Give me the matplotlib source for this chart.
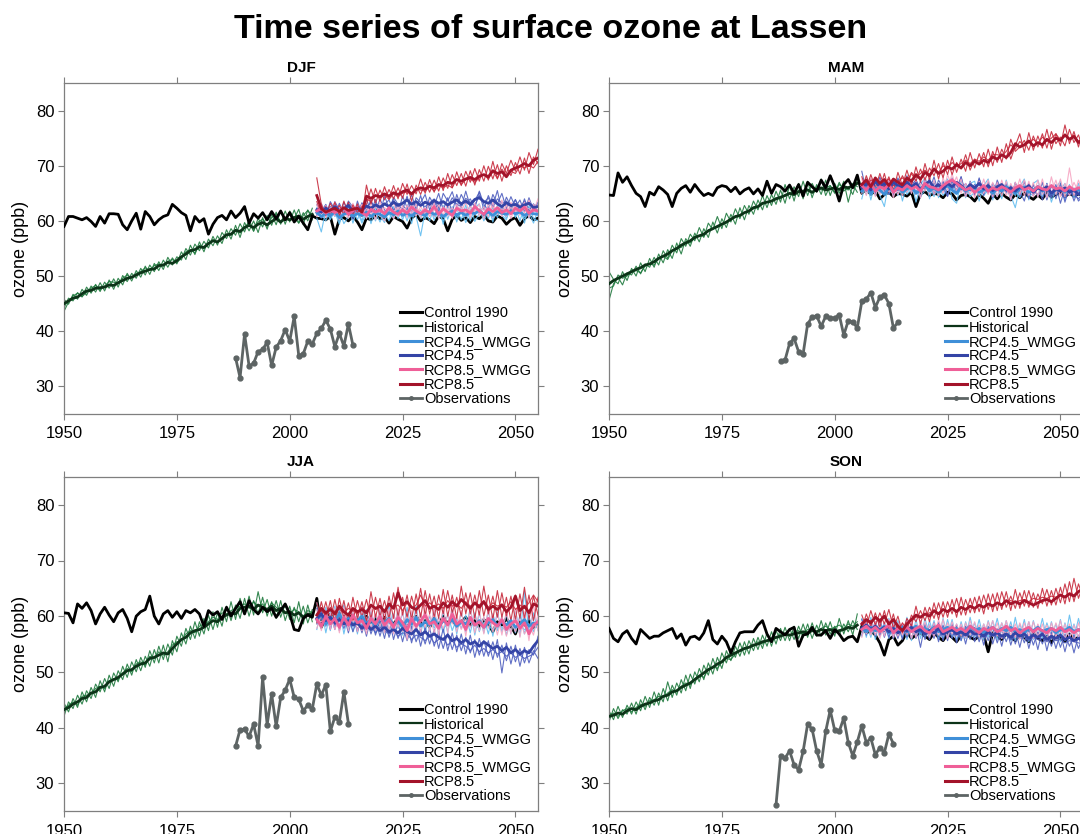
import numpy as np
import matplotlib
matplotlib.use("Agg")
import matplotlib.pyplot as plt
from matplotlib.lines import Line2D

plt.rcParams['font.family'] = ['Liberation Sans', 'DejaVu Sans']

# ---------------- year axes ----------------
CTRL_START = 1950
HIST_START = 1950
FUT_START = 2006

# ================= DJF =================
djf_ctrl = [
    59.0, 60.8, 60.8, 60.5, 60.2, 60.6, 59.9, 59.0, 60.8, 59.6,
    61.3, 61.3, 61.2, 59.3, 58.4, 60.0, 61.4, 58.5, 61.7, 60.8,
    59.3, 60.2, 60.8, 61.1, 63.0, 62.3, 61.5, 61.0, 58.2, 60.8,
    59.8, 60.4, 57.6, 59.4, 60.6, 61.0, 60.2, 61.8, 60.6, 61.4,
    62.6, 59.6, 61.3, 60.5, 61.5, 60.2, 61.7, 60.4, 61.8, 60.2,
    61.5, 59.8, 60.8, 59.6, 58.4, 60.9, 60.5, 60.4, 60.2, 60.8,
    57.6, 60.3, 60.6, 60.0, 60.9, 59.8, 58.4, 60.5, 60.2, 61.0,
    60.4, 60.7, 59.6, 60.8, 60.3, 59.9, 58.7, 60.5, 61.2, 60.0,
    60.6, 60.2, 59.5, 60.9, 60.4, 58.2, 60.3, 61.0, 60.1, 60.6,
    59.7, 60.8, 60.4, 61.2, 60.0, 59.8, 60.9, 60.5, 59.4, 60.2,
    60.6, 59.2, 60.4, 61.0, 60.2, 60.5]
djf_hist = [
    45.0, 45.5, 46.0, 46.2, 46.8, 47.3, 47.4, 47.8, 47.9, 48.0,
    48.4, 48.3, 48.8, 49.2, 49.6, 49.8, 50.2, 50.6, 50.9, 51.2,
    51.3, 51.9, 52.0, 52.5, 52.3, 52.8, 53.5, 54.0, 54.6, 54.8,
    55.3, 55.2, 55.9, 56.4, 56.2, 56.8, 57.5, 57.6, 58.3, 58.1,
    58.8, 59.2, 58.8, 59.4, 59.7, 59.3, 59.9, 60.4, 59.8, 60.5,
    60.2, 60.6, 60.9, 60.3, 60.8, 61.2]
djf_hist_m1 = [
    44.2, 46.0, 45.5, 47.0, 46.2, 48.0, 46.9, 48.5, 47.2, 48.9,
    47.8, 49.5, 48.0, 50.1, 49.0, 50.5, 49.6, 51.4, 50.2, 52.0,
    50.8, 52.6, 51.2, 53.4, 52.0, 53.5, 52.9, 55.0, 53.8, 55.8,
    54.6, 56.3, 55.1, 57.2, 55.6, 57.9, 56.8, 58.6, 57.4, 59.5,
    58.0, 60.3, 58.1, 60.5, 58.9, 61.0, 59.2, 61.6, 59.4, 61.8,
    59.8, 62.0, 59.6, 61.5, 60.0, 62.3]
djf_hist_m2 = [
    45.8, 44.9, 46.7, 45.8, 47.6, 46.5, 48.2, 47.1, 48.8, 47.3,
    49.3, 47.6, 49.6, 48.4, 50.5, 49.1, 51.0, 49.8, 51.8, 50.3,
    52.3, 51.0, 52.9, 51.6, 53.3, 52.2, 54.4, 53.0, 55.6, 53.9,
    56.2, 54.4, 56.7, 55.5, 57.3, 55.9, 58.4, 56.7, 59.2, 57.0,
    59.7, 58.2, 60.0, 57.9, 60.6, 58.5, 61.2, 59.3, 61.9, 59.4,
    61.8, 60.4, 62.1, 59.3, 62.0, 60.2]
djf_hist_m3 = [
    43.6, 45.3, 46.4, 46.9, 46.3, 47.0, 47.8, 48.3, 47.5, 48.2,
    49.0, 48.9, 48.6, 49.6, 50.2, 49.6, 50.5, 50.8, 51.5, 51.0,
    51.9, 52.2, 51.8, 52.7, 53.0, 52.4, 53.3, 54.4, 54.8, 54.2,
    55.6, 55.0, 55.8, 56.6, 56.0, 56.9, 57.5, 57.4, 58.3, 57.8,
    58.9, 59.6, 58.2, 59.8, 60.3, 59.0, 60.6, 61.2, 59.8, 60.4,
    61.4, 60.6, 59.6, 61.0, 61.9, 60.9]
djf_r45w = [
    61.5, 60.8, 61.4, 61.0, 61.6, 60.6, 61.2, 61.5, 60.9, 61.3,
    61.0, 61.6, 60.8, 61.4, 61.2, 60.7, 61.5, 61.1, 61.8, 61.0,
    61.4, 60.9, 61.6, 61.3, 61.0, 61.7, 61.2, 61.5, 60.8, 61.4,
    61.8, 61.1, 61.5, 61.0, 61.6, 61.3, 61.9, 61.2, 61.6, 61.0,
    61.7, 61.4, 61.2, 61.8, 61.3, 61.6, 61.0, 61.5, 61.3, 61.2]
djf_r45w_m1 = [
    60.5, 58.0, 62.0, 60.2, 62.5, 59.8, 61.8, 62.6, 59.6, 62.2,
    60.0, 62.8, 59.5, 62.4, 61.0, 59.7, 62.9, 60.6, 63.0, 60.2,
    62.4, 59.5, 62.9, 60.5, 61.8, 63.0, 60.1, 62.7, 59.4, 62.8,
    61.0, 62.2, 60.2, 62.9, 60.0, 62.4, 63.1, 60.4, 62.7, 59.8,
    62.9, 61.0, 60.2, 63.0, 60.6, 62.7, 59.6, 62.8, 60.4, 60.0]
djf_r45w_m2 = [
    62.4, 61.6, 60.0, 62.2, 60.8, 61.9, 59.5, 60.8, 62.2, 60.2,
    62.4, 60.5, 62.2, 60.0, 62.5, 61.4, 60.0, 62.6, 60.4, 62.3,
    60.0, 62.6, 60.8, 57.3, 61.8, 60.0, 62.6, 60.6, 62.8, 60.3,
    62.6, 59.8, 62.6, 61.2, 62.9, 59.9, 61.4, 62.8, 60.4, 62.5,
    60.6, 62.8, 61.0, 61.6, 62.5, 60.0, 62.6, 60.5, 62.4, 61.0]
djf_r45w_m3 = [
    61.2, 62.2, 61.8, 60.4, 61.6, 59.4, 62.4, 61.0, 61.4, 61.8,
    59.6, 61.5, 61.8, 61.6, 59.8, 61.8, 61.2, 60.5, 61.9, 61.4,
    62.0, 60.8, 61.0, 62.0, 60.4, 62.0, 60.8, 61.3, 60.0, 61.7,
    61.6, 60.6, 62.0, 59.7, 62.1, 61.4, 62.2, 60.0, 61.8, 60.4,
    61.6, 61.9, 60.5, 62.2, 61.0, 61.8, 60.4, 61.6, 59.6, 62.0]
djf_r45 = [
    62.0, 61.6, 62.3, 61.8, 62.6, 61.9, 62.2, 62.8, 61.7, 62.4,
    62.0, 62.7, 62.3, 62.9, 62.5, 63.1, 62.6, 63.4, 62.8, 63.2,
    63.8, 63.0, 63.5, 62.8, 63.4, 63.0, 63.7, 63.2, 63.5, 62.9,
    63.4, 63.8, 63.1, 63.6, 63.0, 63.9, 64.2, 63.5, 63.2, 63.8,
    63.1, 62.6, 63.3, 62.8, 63.0, 62.5, 62.9, 63.2, 62.4, 62.6]
djf_r45_m1 = [
    61.0, 63.2, 60.8, 63.5, 62.0, 60.6, 63.4, 61.8, 60.3, 63.6,
    61.2, 64.0, 61.5, 63.9, 61.0, 64.6, 62.2, 64.0, 61.4, 64.5,
    62.4, 64.8, 62.0, 64.6, 61.6, 64.3, 62.8, 65.0, 62.0, 64.2,
    61.5, 64.8, 62.4, 65.4, 62.6, 63.7, 65.2, 62.0, 64.6, 62.7,
    65.5, 61.8, 64.3, 62.6, 63.9, 61.4, 64.0, 61.8, 63.1, 61.5]
djf_r45_m2 = [
    63.0, 60.5, 61.9, 62.6, 61.0, 63.2, 61.3, 63.6, 62.5, 61.2,
    63.3, 61.8, 63.8, 61.5, 64.0, 62.0, 61.5, 64.3, 63.0, 62.0,
    64.5, 61.4, 64.2, 63.3, 64.8, 62.0, 63.6, 61.7, 65.0, 63.6,
    65.3, 62.5, 64.8, 63.1, 64.0, 62.3, 65.4, 63.0, 61.9, 64.8,
    63.1, 65.0, 62.2, 64.4, 62.5, 63.8, 61.6, 64.2, 62.0, 63.4]
djf_r45_m3 = [
    62.2, 61.8, 63.0, 60.8, 63.5, 62.0, 61.5, 63.0, 62.4, 62.0,
    61.4, 62.3, 63.4, 62.6, 61.9, 63.0, 63.8, 61.9, 63.2, 62.8,
    62.0, 63.5, 62.8, 63.0, 62.6, 63.3, 64.0, 62.3, 63.5, 62.5,
    64.2, 63.0, 62.6, 64.1, 63.4, 62.8, 64.6, 63.3, 64.2, 62.4,
    64.0, 63.2, 63.6, 62.1, 63.8, 62.4, 63.6, 62.0, 62.8, 62.9]
djf_r85w = [
    61.8, 62.2, 61.4, 62.0, 61.5, 61.9, 62.3, 61.2, 61.8, 62.4,
    61.5, 61.0, 62.1, 61.6, 62.0, 61.3, 62.4, 61.6, 61.2, 62.0,
    61.4, 62.5, 61.8, 61.3, 62.0, 61.5, 62.6, 61.2, 62.2, 61.6,
    61.0, 62.3, 61.8, 62.0, 61.4, 62.6, 61.8, 61.2, 62.2, 61.7,
    62.4, 61.5, 62.0, 61.3, 62.3, 61.8, 62.5, 61.4, 62.0, 61.8]
djf_r85w_m1 = [
    63.0, 60.6, 62.8, 60.9, 63.4, 60.2, 62.6, 61.0, 63.2, 61.2,
    63.0, 60.4, 62.9, 60.2, 63.6, 61.0, 62.4, 63.2, 60.8, 62.8,
    60.6, 63.6, 60.9, 62.6, 61.2, 63.5, 60.8, 63.0, 61.0, 63.2,
    60.4, 63.0, 61.6, 63.6, 60.6, 63.2, 61.0, 62.6, 60.8, 63.4,
    61.2, 63.8, 60.8, 63.4, 61.6, 63.0, 61.4, 63.8, 61.6, 64.0]
djf_r85w_m2 = [
    60.8, 63.2, 60.6, 62.4, 61.0, 62.8, 61.4, 60.6, 62.6, 61.5,
    60.8, 62.4, 61.0, 62.8, 61.2, 60.0, 62.6, 60.4, 62.4, 61.0,
    62.8, 61.5, 63.0, 60.6, 62.2, 60.8, 63.3, 60.4, 62.6, 60.9,
    62.4, 61.0, 62.2, 60.8, 62.6, 61.8, 63.0, 60.4, 63.2, 60.6,
    62.6, 60.8, 63.0, 60.4, 62.8, 61.0, 63.4, 60.6, 63.0, 61.2]
djf_r85w_m3 = [
    61.5, 62.4, 61.8, 61.6, 60.9, 62.6, 61.9, 62.0, 60.8, 63.0,
    61.2, 61.8, 62.5, 61.4, 61.6, 62.4, 61.8, 61.0, 62.8, 61.6,
    62.0, 61.0, 62.2, 61.6, 62.4, 60.8, 62.0, 61.6, 61.8, 62.2,
    61.2, 61.8, 62.6, 61.4, 62.0, 61.6, 62.2, 62.0, 61.6, 62.6,
    61.4, 62.2, 61.6, 62.4, 61.8, 61.6, 62.6, 62.2, 61.6, 62.8]
djf_r85 = [
    64.6, 62.2, 61.6, 62.0, 62.3, 61.7, 62.4, 61.9, 62.1, 62.3,
    61.6, 64.5, 64.1, 64.6, 64.4, 64.9, 64.5, 65.1, 64.8, 65.3,
    65.6, 64.9, 65.7, 66.0, 65.8, 66.3, 66.0, 66.6, 66.4, 67.0,
    66.8, 67.5, 67.2, 67.6, 67.9, 67.5, 68.1, 68.4, 68.0, 69.1,
    68.6, 68.9, 68.0, 69.2, 69.6, 69.9, 70.4, 70.0, 71.0, 71.4]
djf_r85_m1 = [
    67.8, 63.0, 61.0, 63.2, 61.5, 62.8, 61.2, 63.4, 61.0, 63.1,
    60.8, 66.5, 63.0, 65.9, 63.5, 66.2, 63.9, 66.4, 64.0, 66.8,
    64.8, 66.4, 64.9, 67.6, 65.0, 67.5, 65.2, 68.0, 65.5, 68.6,
    66.0, 68.9, 66.4, 69.0, 67.0, 69.5, 67.2, 70.0, 67.4, 70.8,
    67.6, 70.4, 68.6, 71.0, 69.0, 71.6, 69.2, 72.4, 70.2, 73.0]
djf_r85_m2 = [
    63.5, 61.4, 62.6, 61.0, 63.4, 60.9, 63.6, 61.0, 62.9, 61.5,
    62.6, 63.0, 65.8, 63.2, 65.6, 63.8, 65.7, 64.0, 66.0, 64.1,
    66.7, 63.6, 66.5, 64.8, 67.0, 65.2, 67.4, 65.4, 67.8, 65.9,
    68.4, 66.4, 68.6, 66.3, 69.1, 66.5, 69.3, 67.2, 69.9, 67.6,
    70.2, 67.2, 70.0, 68.2, 70.6, 68.5, 71.4, 68.6, 71.6, 70.4]
djf_r85_m3 = [
    62.0, 62.6, 61.2, 62.0, 62.0, 61.4, 62.4, 61.3, 62.4, 62.3,
    61.4, 64.0, 63.5, 64.7, 64.1, 64.7, 63.9, 64.9, 64.4, 65.0,
    65.3, 64.7, 65.7, 65.6, 65.4, 66.2, 65.4, 66.4, 66.0, 66.5,
    66.0, 67.6, 66.6, 67.5, 67.6, 67.0, 67.8, 68.4, 67.6, 69.0,
    67.7, 69.4, 68.2, 69.0, 68.6, 70.0, 69.6, 70.1, 69.6, 70.8]
djf_obs_start = 1988
djf_obs = [35.2, 31.6, 39.5, 33.7, 34.2, 36.3, 36.7, 38.0, 33.8, 37.1,
           38.3, 40.3, 38.2, 42.7, 35.6, 35.9, 38.2, 37.7, 39.6, 40.5,
           42.0, 40.4, 37.2, 39.6, 37.3, 41.3, 37.5]

# ================= MAM =================
mam_ctrl = [
    64.7, 64.6, 68.7, 67.0, 68.0, 66.4, 65.0, 64.4, 62.6, 65.2,
    64.7, 66.2, 65.6, 64.8, 62.6, 65.0, 65.9, 66.4, 65.2, 66.6,
    65.5, 64.6, 65.0, 64.6, 66.0, 66.4, 66.2, 65.3, 66.1, 64.9,
    65.6, 66.0, 64.9, 65.8, 64.6, 67.2, 65.0, 66.6, 66.2, 65.4,
    66.5, 65.0, 66.6, 64.5, 67.0, 66.2, 65.4, 67.4, 66.0, 68.2,
    66.2, 63.6, 66.6, 67.5, 66.0, 68.3, 65.0, 65.8, 64.8, 65.5,
    64.0, 64.8, 65.2, 64.4, 65.0, 64.8, 64.5, 65.2, 62.6, 64.9,
    65.3, 64.6, 65.0, 64.8, 64.2, 65.2, 64.9, 63.8, 64.6, 64.8,
    64.4, 63.6, 64.8, 64.1, 63.2, 64.9, 64.0, 65.0, 64.3, 63.8,
    64.8, 64.2, 65.1, 64.4, 63.9, 64.7, 64.0, 65.2, 64.3, 64.8,
    65.2, 64.4, 65.0, 64.5, 64.9, 64.6]
mam_hist = [
    48.6, 49.2, 49.6, 50.0, 50.4, 50.8, 51.2, 51.5, 52.0, 52.2,
    52.6, 53.2, 53.6, 54.0, 54.6, 55.0, 55.6, 56.0, 56.4, 57.0,
    57.3, 57.6, 58.2, 58.6, 59.0, 59.4, 59.8, 60.3, 60.8, 61.0,
    61.5, 61.8, 62.4, 62.6, 63.2, 63.4, 63.6, 64.0, 64.3, 64.6,
    65.0, 64.8, 65.3, 65.4, 65.6, 65.2, 65.7, 66.0, 65.6, 65.8,
    66.0, 65.7, 66.2, 66.0, 66.4, 66.8]
mam_hist_m1 = [
    45.6, 48.6, 49.8, 48.4, 50.6, 50.2, 51.8, 50.4, 52.2, 51.6,
    53.4, 52.0, 54.6, 53.2, 55.6, 54.2, 56.8, 55.4, 57.6, 56.4,
    58.8, 57.0, 59.6, 58.4, 60.8, 58.6, 61.4, 59.8, 62.2, 60.4,
    62.8, 61.2, 63.6, 62.0, 64.6, 62.4, 64.8, 63.0, 65.6, 63.2,
    66.4, 63.6, 66.8, 64.0, 67.2, 64.2, 66.6, 64.8, 67.4, 64.6,
    66.8, 65.0, 67.2, 63.4, 66.6, 65.2]
mam_hist_m2 = [
    50.8, 49.4, 48.6, 50.8, 49.2, 51.4, 50.0, 52.4, 50.8, 53.2,
    51.6, 54.0, 52.4, 54.8, 53.2, 56.0, 54.0, 56.8, 55.4, 57.8,
    56.2, 58.6, 57.0, 59.8, 57.8, 60.4, 58.8, 61.2, 59.4, 62.4,
    60.2, 62.8, 61.2, 63.8, 62.0, 64.6, 62.8, 65.4, 63.4, 66.6,
    64.0, 66.2, 64.4, 67.2, 64.6, 66.8, 65.2, 67.6, 64.6, 66.4,
    65.0, 67.0, 65.4, 66.2, 64.8, 67.4]
mam_hist_m3 = [
    47.8, 48.2, 50.2, 49.6, 50.0, 50.8, 51.0, 50.6, 51.8, 52.2,
    52.0, 53.2, 53.6, 53.0, 54.6, 55.0, 55.2, 56.2, 56.0, 57.2,
    57.4, 57.2, 58.4, 58.6, 58.8, 59.4, 59.6, 60.4, 60.6, 61.0,
    61.4, 61.8, 62.2, 62.6, 63.0, 63.4, 63.6, 64.2, 64.0, 64.8,
    65.0, 64.6, 65.6, 65.4, 65.8, 65.0, 66.2, 65.6, 66.0, 66.4,
    65.2, 66.6, 66.0, 65.6, 66.8, 66.2]
mam_r45w = [
    65.4, 66.2, 65.0, 66.0, 65.6, 64.8, 66.0, 65.4, 66.4, 65.2,
    65.8, 66.2, 65.0, 65.6, 66.6, 65.4, 66.0, 65.2, 65.8, 66.4,
    65.6, 65.0, 66.2, 65.4, 65.8, 66.0, 65.2, 65.6, 66.4, 65.0,
    65.8, 65.4, 66.2, 65.6, 65.0, 65.8, 66.0, 65.2, 65.6, 66.2,
    65.4, 65.8, 65.0, 65.6, 66.0, 65.2, 65.8, 65.4, 65.6, 65.2]
mam_r45w_m1 = [
    64.0, 67.4, 63.8, 67.0, 64.6, 62.6, 67.2, 64.4, 67.6, 63.6,
    66.8, 67.4, 63.4, 66.6, 67.8, 64.0, 67.2, 64.2, 66.6, 67.6,
    64.0, 63.2, 67.4, 64.2, 66.8, 67.2, 63.6, 66.4, 67.6, 63.8,
    66.6, 64.0, 67.4, 64.6, 62.4, 66.2, 67.6, 63.8, 66.8, 67.4,
    64.4, 66.8, 63.4, 66.0, 67.2, 63.8, 66.6, 64.2, 66.8, 64.4]
mam_r45w_m2 = [
    66.6, 64.8, 66.4, 64.6, 67.0, 65.6, 64.8, 66.8, 64.6, 66.8,
    64.8, 65.8, 67.0, 64.4, 65.6, 66.6, 64.4, 66.4, 64.6, 65.8,
    66.8, 64.8, 65.6, 66.4, 64.4, 65.2, 66.8, 64.6, 65.6, 66.4,
    64.4, 66.8, 65.0, 66.4, 65.4, 64.2, 66.4, 65.0, 64.6, 66.4,
    65.8, 64.6, 66.6, 64.8, 65.6, 66.8, 64.6, 66.0, 64.8, 66.2]
mam_r45w_m3 = [
    65.4, 66.0, 64.6, 66.4, 65.2, 65.8, 66.2, 65.0, 66.6, 65.6,
    65.2, 66.2, 65.4, 66.0, 66.4, 65.2, 65.8, 64.8, 66.2, 66.0,
    65.4, 64.8, 66.0, 65.6, 66.2, 65.6, 65.0, 65.8, 66.0, 64.8,
    66.2, 65.4, 65.8, 65.8, 64.6, 66.2, 65.8, 64.8, 65.8, 66.4,
    65.0, 66.0, 64.8, 65.4, 66.0, 65.0, 66.2, 65.6, 65.2, 64.8]
mam_r45 = [
    66.0, 66.8, 65.6, 67.2, 66.2, 66.8, 65.8, 67.0, 66.4, 66.0,
    67.0, 66.2, 66.8, 65.6, 66.6, 67.2, 66.0, 66.6, 65.8, 66.8,
    66.2, 67.0, 66.4, 65.6, 66.6, 66.0, 66.8, 65.8, 66.4, 65.5,
    66.2, 66.6, 65.6, 66.0, 65.4, 66.2, 65.8, 66.4, 65.2, 66.0,
    65.6, 66.2, 65.0, 65.8, 65.4, 66.0, 65.2, 65.6, 64.8, 65.4]
mam_r45_m1 = [
    69.0, 65.4, 67.6, 64.8, 68.0, 65.2, 67.4, 64.6, 67.8, 65.6,
    68.2, 65.0, 67.6, 64.2, 67.8, 65.6, 68.0, 65.0, 67.2, 64.6,
    67.8, 65.2, 68.0, 64.4, 67.2, 64.8, 67.8, 64.6, 67.0, 64.2,
    67.4, 65.4, 66.8, 63.8, 67.0, 64.6, 67.2, 64.0, 66.6, 64.4,
    67.0, 63.8, 66.4, 64.0, 66.8, 63.4, 66.2, 63.6, 65.8, 63.0]
mam_r45_m2 = [
    65.2, 67.6, 66.4, 65.0, 67.4, 66.0, 64.8, 67.6, 65.4, 67.0,
    65.8, 67.6, 65.0, 67.2, 65.6, 67.8, 64.8, 67.4, 66.0, 64.4,
    67.2, 65.6, 68.0, 65.0, 66.8, 64.6, 67.6, 65.6, 66.2, 64.4,
    67.0, 65.2, 66.6, 64.4, 66.8, 65.4, 63.6, 66.8, 64.6, 66.4,
    63.8, 66.8, 64.2, 66.6, 63.2, 66.0, 64.6, 65.6, 63.6, 64.6]
mam_r45_m3 = [
    66.4, 66.0, 65.2, 67.0, 66.6, 66.2, 67.2, 65.6, 66.2, 66.8,
    65.8, 66.6, 67.4, 66.0, 66.4, 65.8, 66.8, 66.2, 65.6, 67.0,
    65.8, 66.4, 65.6, 66.8, 65.4, 66.6, 65.8, 66.2, 65.0, 66.8,
    65.6, 66.0, 65.2, 66.4, 65.0, 65.8, 66.2, 65.0, 65.6, 64.6,
    65.8, 65.2, 64.4, 65.6, 65.0, 64.2, 65.4, 64.8, 64.0, 65.0]
mam_r85w = [
    66.4, 65.6, 66.8, 65.4, 66.2, 65.8, 66.6, 65.2, 66.0, 65.6,
    66.4, 65.8, 66.2, 65.4, 66.8, 66.2, 66.0, 65.6, 66.4, 67.0,
    67.4, 66.8, 66.2, 65.6, 66.0, 65.2, 65.8, 66.4, 65.4, 66.0,
    65.6, 66.2, 65.8, 65.2, 66.0, 66.4, 65.6, 66.0, 65.4, 66.2,
    65.8, 65.6, 66.4, 65.8, 66.0, 65.4, 66.2, 65.6, 66.0, 65.8]
mam_r85w_m1 = [
    67.6, 64.6, 67.8, 64.4, 67.4, 64.8, 67.6, 64.2, 67.0, 64.6,
    67.6, 65.0, 67.4, 64.2, 68.0, 64.8, 67.4, 64.6, 67.8, 65.6,
    68.6, 65.4, 67.6, 64.4, 67.0, 64.2, 67.2, 65.0, 67.4, 64.4,
    67.0, 64.6, 67.2, 63.8, 67.0, 64.8, 67.4, 64.6, 67.0, 64.4,
    67.6, 64.2, 68.0, 64.8, 67.6, 64.4, 69.6, 64.6, 67.4, 65.0]
mam_r85w_m2 = [
    65.0, 67.0, 65.4, 66.8, 64.8, 67.2, 65.2, 66.6, 64.8, 67.0,
    65.2, 67.2, 64.8, 66.8, 65.4, 67.4, 64.8, 66.8, 65.0, 68.4,
    66.2, 68.0, 65.0, 66.8, 64.8, 66.4, 64.6, 67.6, 64.8, 67.0,
    64.4, 67.4, 64.6, 66.8, 65.0, 67.6, 64.6, 67.2, 64.4, 67.4,
    64.8, 66.6, 65.2, 67.4, 64.4, 66.8, 64.6, 67.0, 65.2, 66.6]
mam_r85w_m3 = [
    66.2, 66.0, 66.6, 65.6, 66.4, 65.8, 67.0, 65.4, 66.2, 65.6,
    66.6, 66.0, 66.2, 65.6, 66.8, 66.4, 66.0, 65.8, 66.4, 67.2,
    67.6, 67.0, 66.4, 65.8, 66.2, 65.4, 66.0, 66.6, 65.6, 66.2,
    65.8, 66.4, 66.0, 65.4, 66.2, 66.6, 65.8, 66.2, 65.6, 66.4,
    66.0, 65.8, 66.6, 66.0, 66.2, 65.6, 66.4, 65.8, 66.2, 66.0]
mam_r85 = [
    66.6, 67.4, 66.2, 67.8, 66.8, 67.5, 66.4, 67.6, 67.0, 66.5,
    67.8, 67.2, 68.4, 67.6, 68.8, 68.2, 69.4, 68.6, 69.0, 69.8,
    69.4, 70.2, 69.6, 70.6, 70.0, 70.8, 70.3, 71.0, 70.6, 71.6,
    71.2, 72.0, 71.5, 72.4, 74.0, 73.4, 73.8, 74.5, 73.6, 74.2,
    73.8, 74.8, 74.2, 75.0, 74.6, 75.6, 74.8, 75.3, 74.2, 74.8]
mam_r85_m1 = [
    68.0, 65.8, 68.4, 66.0, 68.6, 66.2, 68.0, 65.6, 68.8, 66.4,
    69.2, 66.5, 69.8, 67.0, 70.4, 67.4, 71.0, 67.6, 70.6, 68.4,
    71.6, 68.8, 71.2, 69.0, 72.4, 69.6, 72.2, 69.8, 73.0, 70.0,
    73.4, 70.6, 74.0, 71.2, 73.6, 75.8, 72.4, 76.0, 72.8, 75.4,
    73.2, 76.6, 73.0, 75.8, 73.6, 77.4, 74.0, 76.2, 73.4, 76.6]
mam_r85_m2 = [
    65.6, 68.2, 66.0, 67.4, 65.8, 68.6, 65.6, 67.0, 66.4, 68.2,
    66.6, 68.6, 67.2, 69.4, 67.4, 69.6, 68.2, 70.4, 67.8, 71.0,
    68.4, 70.6, 69.4, 72.0, 69.2, 71.2, 70.2, 72.4, 69.8, 72.6,
    70.6, 73.0, 71.2, 74.8, 72.6, 73.4, 74.6, 72.8, 75.4, 73.4,
    75.8, 73.2, 76.2, 74.0, 75.2, 73.6, 76.6, 74.2, 75.6, 73.0]
mam_r85_m3 = [
    66.8, 66.4, 67.4, 67.2, 66.2, 67.0, 67.6, 66.4, 67.2, 67.8,
    67.0, 68.8, 67.8, 68.6, 69.2, 68.4, 69.6, 68.8, 70.0, 69.4,
    70.6, 69.8, 70.4, 71.0, 70.4, 71.2, 70.8, 71.6, 71.0, 72.0,
    72.0, 71.8, 72.6, 73.8, 73.0, 74.4, 73.6, 74.2, 74.8, 74.0,
    75.2, 74.4, 75.0, 75.8, 74.6, 75.4, 74.8, 75.6, 74.4, 75.0]
mam_obs_start = 1988
mam_obs = [34.6, 34.8, 37.8, 38.7, 36.3, 35.9, 41.3, 42.6, 42.8, 40.9,
           42.7, 42.4, 42.4, 43.0, 39.3, 41.9, 41.7, 40.6, 45.4, 45.8,
           47.0, 44.3, 46.2, 46.6, 45.0, 40.6, 41.6]

# ================= JJA =================
jja_ctrl = [
    60.6, 60.5, 58.8, 62.2, 61.4, 62.4, 61.0, 58.6, 60.4, 61.6,
    60.2, 59.0, 60.6, 61.2, 59.6, 57.2, 60.0, 60.8, 61.2, 63.6,
    60.0, 58.6, 60.4, 61.0, 59.8, 60.8, 59.6, 61.0, 60.6, 61.2,
    60.4, 58.2, 61.0, 60.2, 60.8, 59.4, 61.6, 60.0, 61.4, 62.6,
    60.4, 62.8, 61.2, 60.4, 61.6, 60.8, 61.4, 59.8, 61.0, 62.2,
    60.4, 57.6, 57.4, 59.6, 60.2, 59.8, 63.2, 58.0, 59.8, 60.4,
    59.2, 60.0, 58.8, 59.6, 60.2, 58.6, 59.4, 60.0, 58.8, 59.6,
    58.4, 59.8, 59.2, 58.6, 59.6, 58.8, 57.8, 59.4, 60.0, 58.8,
    59.2, 58.0, 59.6, 58.4, 60.0, 58.6, 59.4, 58.2, 59.0, 59.8,
    58.4, 59.2, 58.0, 59.4, 58.6, 57.2, 59.0, 58.4, 59.6, 58.2,
    56.8, 59.0, 58.4, 59.2, 58.0, 58.8]
jja_hist = [
    43.2, 43.6, 44.2, 44.6, 45.2, 45.4, 46.2, 46.4, 47.2, 47.4,
    48.2, 48.6, 49.0, 49.6, 50.2, 50.4, 51.0, 51.4, 51.6, 52.4,
    52.6, 53.0, 53.4, 53.2, 54.2, 55.0, 55.8, 56.2, 57.0, 57.4,
    57.6, 58.0, 58.6, 59.2, 59.0, 59.8, 60.2, 60.6, 60.4, 61.4,
    61.6, 61.8, 61.2, 62.0, 61.6, 61.2, 61.8, 61.0, 61.4, 60.6,
    60.8, 60.2, 60.6, 59.8, 60.4, 60.2]
jja_hist_m1 = [
    42.0, 44.6, 43.4, 45.8, 44.2, 46.6, 45.2, 47.8, 46.4, 48.8,
    47.0, 49.8, 48.2, 51.0, 49.0, 51.8, 50.0, 52.6, 50.8, 53.8,
    51.6, 54.6, 52.2, 55.0, 53.0, 56.4, 54.6, 57.8, 55.8, 59.0,
    56.4, 59.6, 57.4, 60.8, 58.0, 61.6, 59.0, 62.6, 59.4, 63.2,
    60.4, 63.6, 60.2, 64.4, 60.6, 63.0, 60.0, 62.8, 59.8, 62.2,
    59.4, 61.6, 59.0, 61.8, 58.8, 61.2]
jja_hist_m2 = [
    44.4, 42.8, 45.2, 43.6, 46.4, 44.6, 47.2, 45.4, 48.4, 46.4,
    49.4, 47.4, 50.2, 48.6, 51.4, 49.4, 52.2, 50.2, 52.8, 51.0,
    54.0, 51.6, 54.8, 51.8, 55.6, 53.6, 57.0, 55.0, 58.2, 56.0,
    59.0, 56.8, 60.2, 57.6, 60.6, 58.2, 61.8, 59.2, 62.0, 59.6,
    63.2, 60.0, 62.8, 60.4, 63.4, 60.0, 62.6, 59.6, 62.8, 59.2,
    61.8, 58.8, 62.6, 58.6, 62.0, 59.0]
jja_hist_m3 = [
    43.4, 44.0, 44.6, 44.0, 45.6, 45.8, 46.0, 47.0, 47.4, 47.0,
    48.4, 48.8, 48.6, 49.8, 50.6, 50.0, 51.4, 51.8, 51.2, 52.8,
    52.4, 53.6, 53.0, 53.6, 54.8, 55.4, 55.6, 56.8, 57.4, 57.0,
    58.2, 58.6, 59.0, 59.8, 59.4, 60.6, 60.4, 61.0, 61.4, 61.8,
    62.2, 61.4, 62.6, 61.8, 62.2, 61.0, 62.4, 61.6, 61.0, 61.8,
    60.4, 61.2, 60.8, 60.0, 61.0, 60.6]
jja_r45w = [
    59.4, 60.2, 58.6, 59.8, 59.0, 60.4, 58.8, 59.6, 58.4, 59.2,
    60.0, 58.6, 59.4, 58.2, 59.8, 58.8, 59.6, 58.4, 59.2, 58.0,
    59.4, 58.6, 59.8, 58.2, 59.0, 58.4, 59.6, 58.0, 59.2, 58.6,
    59.4, 58.2, 59.0, 58.6, 59.6, 58.4, 59.2, 58.0, 58.8, 59.4,
    58.2, 59.0, 58.4, 59.2, 58.0, 58.6, 59.4, 58.2, 58.8, 58.6]
jja_r45w_m1 = [
    62.4, 58.0, 61.6, 57.4, 61.8, 58.2, 62.0, 57.6, 61.2, 56.8,
    61.6, 57.8, 61.0, 57.2, 61.4, 57.0, 62.0, 57.4, 61.2, 56.6,
    61.6, 57.2, 61.8, 56.8, 60.6, 57.4, 61.4, 56.6, 61.0, 57.0,
    61.2, 56.8, 60.8, 57.2, 61.6, 56.6, 60.6, 57.0, 61.0, 56.4,
    60.8, 57.2, 60.4, 56.8, 61.2, 56.4, 64.4, 57.0, 60.6, 57.4]
jja_r45w_m2 = [
    57.6, 61.4, 57.0, 60.8, 58.2, 61.4, 56.8, 60.6, 57.2, 60.8,
    58.0, 61.2, 57.4, 60.2, 58.0, 61.0, 57.2, 60.4, 57.8, 60.6,
    57.0, 60.8, 57.6, 60.4, 57.2, 60.0, 57.8, 59.8, 57.0, 60.4,
    57.4, 59.6, 57.8, 60.2, 57.0, 60.6, 57.2, 59.8, 56.8, 60.4,
    57.4, 60.0, 56.6, 59.6, 57.0, 60.2, 56.8, 60.0, 57.2, 59.4]
jja_r45w_m3 = [
    59.0, 60.0, 59.4, 58.6, 59.8, 59.2, 58.2, 59.6, 58.8, 59.4,
    58.4, 59.8, 58.6, 59.0, 58.2, 59.4, 58.8, 58.0, 59.6, 58.4,
    59.0, 58.2, 59.4, 58.6, 58.0, 59.2, 58.4, 59.0, 57.8, 58.6,
    59.2, 58.0, 58.8, 57.6, 59.0, 58.4, 57.8, 58.8, 58.2, 57.6,
    58.6, 58.0, 57.4, 58.4, 57.8, 58.2, 57.6, 58.0, 58.4, 57.8]
jja_r45 = [
    59.6, 60.4, 59.2, 59.8, 58.8, 59.4, 58.6, 59.2, 58.4, 58.8,
    57.8, 58.6, 57.6, 58.2, 57.4, 58.0, 57.2, 57.6, 57.0, 57.8,
    57.2, 56.8, 57.6, 56.6, 57.2, 56.4, 56.8, 56.2, 55.8, 56.6,
    55.6, 56.0, 55.2, 55.8, 55.0, 55.4, 54.6, 55.4, 54.8, 54.2,
    54.6, 53.8, 54.4, 53.4, 54.0, 53.2, 53.8, 53.4, 54.6, 55.6]
jja_r45_m1 = [
    61.4, 58.0, 60.6, 57.6, 60.8, 57.4, 60.2, 57.0, 60.4, 57.2,
    59.6, 56.4, 59.8, 56.6, 59.2, 56.0, 59.6, 55.8, 58.8, 55.4,
    58.6, 55.2, 58.4, 54.6, 58.0, 55.0, 57.6, 54.2, 57.8, 53.8,
    57.0, 53.6, 56.8, 53.2, 56.6, 52.6, 56.0, 52.8, 55.6, 52.2,
    55.8, 49.8, 55.2, 51.4, 54.8, 51.0, 54.4, 51.6, 53.8, 52.4]
jja_r45_m2 = [
    58.6, 61.0, 58.2, 60.4, 57.6, 60.8, 57.8, 60.0, 57.2, 59.6,
    57.0, 59.8, 56.8, 59.2, 56.4, 59.4, 56.2, 58.6, 56.0, 58.4,
    55.6, 58.2, 55.4, 57.6, 55.0, 57.8, 54.6, 57.2, 54.2, 57.0,
    54.0, 56.6, 53.8, 56.2, 53.4, 55.8, 53.0, 55.6, 52.8, 55.4,
    52.6, 54.8, 52.0, 54.6, 51.8, 54.2, 51.6, 54.0, 53.0, 56.4]
jja_r45_m3 = [
    60.2, 59.4, 60.0, 59.6, 58.4, 59.8, 58.8, 58.2, 59.0, 57.8,
    58.4, 57.6, 58.2, 57.0, 58.0, 57.4, 56.8, 57.6, 56.4, 57.0,
    56.8, 55.8, 56.6, 56.2, 55.6, 56.4, 55.2, 55.8, 56.0, 54.8,
    55.6, 54.4, 55.0, 54.6, 53.8, 54.8, 53.6, 54.2, 53.4, 54.0,
    53.2, 53.6, 52.8, 53.4, 52.6, 53.0, 52.4, 52.8, 53.2, 54.4]
jja_r85w = [
    59.4, 58.2, 60.0, 58.6, 59.6, 58.0, 59.8, 58.4, 60.2, 58.8,
    59.2, 57.8, 59.6, 58.6, 60.0, 58.4, 59.4, 58.0, 59.8, 58.8,
    57.4, 59.6, 58.2, 59.2, 60.2, 58.6, 59.0, 57.8, 59.6, 58.4,
    60.4, 58.6, 59.2, 57.6, 59.8, 58.4, 59.0, 58.0, 59.6, 58.8,
    58.2, 59.4, 57.6, 58.6, 59.2, 57.8, 58.8, 56.8, 58.4, 59.0]
jja_r85w_m1 = [
    61.2, 57.4, 61.0, 57.6, 61.4, 57.0, 61.6, 57.4, 61.2, 57.2,
    60.8, 56.8, 61.6, 57.4, 61.8, 57.0, 61.2, 56.8, 61.4, 57.2,
    60.8, 56.6, 61.2, 57.0, 62.0, 57.4, 61.4, 56.6, 61.6, 57.0,
    62.2, 57.2, 61.0, 56.4, 61.4, 57.0, 60.8, 56.8, 61.2, 57.2,
    60.6, 56.6, 61.0, 56.8, 61.4, 56.2, 60.8, 55.6, 62.2, 57.4]
jja_r85w_m2 = [
    57.8, 60.2, 58.4, 60.6, 57.6, 60.0, 58.2, 60.4, 58.6, 60.6,
    57.4, 59.8, 58.0, 60.4, 58.2, 60.6, 57.6, 60.2, 58.0, 60.8,
    55.8, 61.0, 57.4, 60.6, 58.0, 60.4, 57.0, 59.6, 57.8, 60.2,
    58.6, 60.0, 57.6, 59.4, 58.0, 60.2, 57.4, 59.8, 57.8, 60.4,
    56.6, 60.0, 56.4, 59.4, 57.2, 59.6, 56.8, 58.4, 56.6, 60.2]
jja_r85w_m3 = [
    59.2, 59.0, 59.8, 58.6, 59.4, 58.4, 60.0, 58.8, 59.8, 59.0,
    58.8, 58.4, 59.2, 58.8, 59.6, 58.6, 59.0, 58.2, 59.4, 58.6,
    58.2, 59.4, 58.6, 59.0, 59.8, 58.8, 59.2, 58.2, 59.4, 58.6,
    59.8, 58.8, 59.0, 58.0, 59.6, 58.6, 58.8, 58.2, 59.4, 58.8,
    58.4, 59.0, 57.8, 58.6, 59.0, 58.0, 58.6, 57.2, 58.2, 58.8]
jja_r85 = [
    60.2, 61.4, 60.6, 61.2, 60.4, 61.8, 60.8, 60.2, 61.4, 60.8,
    61.2, 60.6, 62.0, 61.4, 61.8, 60.8, 62.2, 61.4, 64.2, 62.0,
    62.6, 61.6, 61.2, 62.0, 62.8, 61.4, 61.8, 61.2, 62.4, 61.6,
    62.6, 61.8, 63.0, 62.2, 61.4, 62.4, 61.6, 62.6, 61.2, 61.8,
    61.2, 62.0, 60.8, 61.6, 63.6, 61.0, 61.8, 60.6, 62.2, 61.8]
jja_r85_m1 = [
    62.4, 59.6, 62.6, 59.2, 63.0, 59.4, 62.8, 58.8, 63.4, 59.6,
    62.6, 59.0, 64.4, 59.8, 63.2, 59.2, 63.6, 59.6, 65.2, 60.2,
    63.8, 59.4, 64.0, 59.8, 64.6, 60.4, 63.6, 59.6, 64.8, 60.0,
    63.8, 59.6, 65.4, 60.4, 64.2, 59.6, 64.6, 60.0, 63.8, 59.4,
    64.6, 59.8, 63.4, 59.2, 63.8, 59.6, 65.2, 59.4, 63.6, 60.2]
jja_r85_m2 = [
    58.8, 62.6, 59.4, 62.8, 58.8, 63.2, 59.6, 62.4, 59.2, 62.8,
    59.8, 63.0, 59.6, 63.4, 60.0, 62.8, 59.6, 64.2, 60.0, 63.4,
    59.8, 63.6, 60.4, 65.0, 60.2, 64.0, 59.8, 63.8, 60.4, 64.6,
    60.6, 63.4, 60.0, 64.2, 60.4, 63.8, 60.2, 65.4, 60.4, 63.6,
    59.8, 64.2, 60.0, 63.6, 59.4, 64.0, 59.6, 63.8, 59.2, 63.4]
jja_r85_m3 = [
    60.4, 61.0, 60.2, 61.6, 60.8, 61.2, 60.6, 61.4, 61.0, 60.4,
    61.6, 60.8, 62.0, 61.2, 61.6, 60.8, 62.2, 61.6, 62.0, 61.0,
    62.4, 61.4, 62.0, 63.8, 61.8, 62.4, 61.6, 62.2, 61.4, 62.8,
    61.8, 62.2, 61.4, 62.6, 61.8, 62.4, 62.0, 62.8, 61.6, 62.4,
    61.8, 62.2, 61.6, 62.6, 61.2, 62.0, 61.4, 62.4, 63.8, 62.6]
jja_obs_start = 1988
jja_obs = [36.6, 39.6, 39.7, 38.4, 40.6, 36.7, 49.0, 40.5, 46.0, 40.2,
           45.4, 46.7, 48.7, 45.4, 45.1, 43.0, 44.0, 43.3, 47.8, 45.8,
           47.7, 39.3, 41.9, 41.0, 46.4, 40.7]

# ================= SON =================
son_ctrl = [
    57.8, 56.0, 55.4, 56.8, 57.4, 56.0, 55.0, 57.6, 56.8, 56.0,
    56.4, 56.4, 57.0, 57.4, 57.8, 56.0, 56.8, 54.8, 56.2, 56.4,
    55.8, 57.0, 59.2, 55.8, 55.0, 56.4, 55.4, 53.4, 55.4, 57.0,
    57.2, 57.2, 57.2, 58.4, 59.2, 56.8, 55.4, 57.8, 57.2, 56.6,
    57.6, 58.0, 54.6, 56.6, 56.8, 58.0, 56.6, 56.6, 57.4, 56.0,
    57.6, 56.8, 55.6, 56.2, 56.4, 55.4, 58.2, 57.0, 57.4, 56.6,
    55.2, 53.0, 55.8, 56.4, 54.8, 55.6, 57.2, 56.0, 56.6, 57.0,
    56.4, 55.8, 57.0, 56.2, 55.6, 56.8, 56.2, 55.4, 56.6, 57.0,
    56.2, 55.8, 56.4, 56.6, 53.6, 57.0, 56.4, 55.8, 56.8, 56.2,
    55.6, 56.8, 56.2, 55.4, 57.0, 56.0, 55.6, 56.4, 55.2, 56.6,
    56.0, 55.4, 56.8, 55.8, 56.2, 55.6]
son_hist = [
    42.0, 42.2, 42.6, 42.4, 43.0, 43.4, 43.2, 43.8, 44.2, 44.4,
    44.8, 45.0, 45.6, 45.8, 46.4, 46.6, 47.2, 47.6, 48.0, 48.6,
    49.2, 49.8, 50.4, 50.8, 51.4, 51.8, 52.6, 53.0, 53.4, 53.8,
    54.2, 54.4, 54.8, 55.0, 55.4, 55.6, 55.8, 56.2, 56.4, 56.8,
    56.6, 56.8, 57.0, 57.2, 57.0, 57.4, 57.2, 57.6, 57.4, 57.6,
    57.2, 57.4, 57.6, 58.0, 57.8, 58.4]
son_hist_m1 = [
    41.0, 43.4, 41.6, 43.2, 42.4, 44.4, 42.4, 45.0, 43.2, 45.4,
    44.0, 46.2, 44.6, 48.2, 45.4, 48.0, 46.2, 49.4, 47.0, 50.0,
    48.2, 51.2, 49.4, 52.4, 50.2, 53.4, 51.6, 54.2, 52.6, 55.2,
    53.0, 55.6, 53.8, 56.2, 54.2, 57.0, 54.6, 57.4, 55.6, 58.0,
    55.6, 58.2, 56.0, 58.6, 56.2, 58.8, 56.4, 59.2, 56.6, 59.0,
    56.4, 59.6, 56.8, 59.2, 56.6, 60.4]
son_hist_m2 = [
    43.0, 41.4, 43.8, 41.8, 44.0, 42.4, 44.6, 43.0, 45.6, 43.6,
    46.4, 44.0, 47.0, 44.8, 47.6, 45.8, 48.6, 46.6, 49.6, 47.8,
    50.6, 48.6, 51.6, 49.6, 52.6, 50.6, 53.8, 52.0, 54.6, 52.8,
    55.4, 53.2, 56.0, 54.0, 56.6, 54.6, 57.2, 55.0, 57.8, 55.6,
    57.8, 55.8, 58.2, 56.2, 58.6, 56.0, 58.4, 56.4, 58.8, 56.8,
    58.2, 56.6, 58.6, 57.2, 59.2, 57.6]
son_hist_m3 = [
    42.2, 42.6, 42.0, 43.0, 43.4, 42.8, 43.6, 44.2, 43.8, 44.8,
    45.0, 45.6, 45.4, 46.2, 46.8, 46.4, 47.4, 48.0, 47.6, 48.8,
    49.4, 49.0, 50.4, 51.0, 50.6, 51.8, 52.4, 52.2, 53.2, 53.8,
    54.0, 54.4, 54.6, 55.4, 55.0, 55.6, 56.2, 56.0, 56.8, 57.0,
    56.4, 57.2, 57.4, 56.8, 57.6, 57.8, 57.2, 57.8, 58.2, 57.6,
    58.0, 58.4, 57.8, 58.6, 58.2, 59.0]
son_r45w = [
    57.8, 57.2, 58.0, 57.4, 57.6, 58.2, 57.0, 57.8, 57.4, 58.0,
    57.2, 57.6, 58.2, 57.0, 57.8, 57.4, 58.0, 57.2, 57.6, 58.0,
    57.4, 57.8, 57.0, 57.6, 58.2, 57.4, 57.8, 57.0, 57.6, 58.0,
    57.2, 57.8, 57.4, 58.0, 57.2, 57.6, 57.0, 57.8, 57.4, 58.0,
    57.2, 57.6, 57.8, 57.0, 57.6, 57.4, 58.0, 57.2, 57.6, 57.4]
son_r45w_m1 = [
    59.6, 56.2, 59.8, 55.8, 59.4, 56.4, 59.6, 56.0, 59.2, 56.2,
    59.8, 55.6, 59.4, 56.0, 59.6, 56.4, 59.2, 55.8, 59.6, 56.2,
    59.4, 55.6, 59.0, 56.0, 59.8, 56.2, 59.4, 55.8, 59.2, 56.4,
    59.6, 56.0, 59.2, 55.6, 59.8, 56.0, 59.4, 55.4, 59.2, 56.2,
    59.6, 55.8, 59.0, 56.0, 59.4, 55.6, 60.2, 56.0, 59.6, 56.2]
son_r45w_m2 = [
    56.4, 58.6, 56.2, 59.0, 56.6, 58.8, 56.0, 59.2, 56.4, 58.6,
    55.8, 59.0, 56.6, 58.4, 56.2, 59.2, 56.4, 58.8, 56.0, 59.4,
    56.2, 58.6, 55.6, 59.0, 56.4, 58.8, 56.0, 58.6, 56.2, 59.2,
    55.8, 58.8, 56.4, 59.0, 55.6, 58.6, 56.2, 59.0, 55.8, 58.4,
    56.0, 58.8, 56.4, 58.6, 55.4, 58.8, 56.0, 58.6, 55.8, 59.0]
son_r45w_m3 = [
    57.6, 57.8, 57.4, 58.0, 57.2, 57.6, 57.8, 57.2, 58.0, 57.4,
    57.6, 57.8, 57.2, 57.6, 58.0, 57.4, 57.8, 57.2, 57.6, 57.8,
    57.4, 58.0, 57.2, 57.6, 57.8, 57.2, 57.6, 58.0, 57.4, 57.6,
    57.8, 57.2, 57.6, 57.4, 57.8, 57.2, 57.6, 57.8, 57.4, 57.6,
    57.2, 57.8, 57.4, 57.6, 57.2, 57.8, 57.4, 57.6, 57.2, 57.6]
son_r45 = [
    57.8, 58.4, 57.6, 58.2, 57.4, 58.0, 57.2, 57.8, 57.0, 57.6,
    57.4, 58.0, 57.2, 57.6, 56.8, 57.4, 57.0, 57.8, 56.8, 57.2,
    57.6, 56.8, 57.2, 56.6, 57.4, 56.8, 57.0, 56.4, 57.2, 56.6,
    57.0, 56.4, 56.8, 56.2, 57.0, 56.4, 56.8, 56.0, 56.6, 56.2,
    56.8, 55.8, 56.4, 56.0, 56.6, 55.8, 56.2, 55.6, 56.0, 55.8]
son_r45_m1 = [
    59.4, 56.6, 59.0, 56.4, 59.2, 56.2, 58.8, 56.0, 58.6, 55.8,
    58.8, 56.0, 58.4, 54.4, 58.6, 55.8, 58.8, 55.4, 58.4, 55.6,
    58.6, 55.2, 58.2, 55.0, 58.4, 55.4, 58.0, 54.8, 58.2, 55.0,
    57.8, 54.6, 58.0, 54.8, 57.6, 54.4, 57.8, 54.2, 57.4, 54.0,
    57.6, 53.8, 57.2, 54.2, 57.0, 53.6, 56.8, 53.4, 56.6, 53.2]
son_r45_m2 = [
    56.6, 59.2, 56.8, 59.0, 56.4, 58.8, 56.2, 58.6, 56.0, 58.4,
    56.2, 58.8, 56.0, 58.6, 55.8, 58.4, 56.0, 58.8, 55.6, 58.2,
    56.0, 58.4, 55.6, 58.2, 55.8, 58.0, 55.4, 57.8, 55.6, 58.0,
    55.2, 57.6, 55.4, 57.8, 55.0, 57.4, 55.2, 57.6, 54.8, 57.2,
    55.0, 57.4, 54.6, 57.0, 54.4, 56.8, 54.6, 56.6, 54.2, 56.4]
son_r45_m3 = [
    58.0, 57.6, 58.2, 57.4, 57.8, 57.2, 58.0, 57.0, 57.6, 57.2,
    57.8, 57.4, 57.0, 57.6, 56.8, 57.4, 57.0, 57.2, 56.6, 57.0,
    56.8, 56.6, 57.2, 56.4, 57.0, 56.6, 56.8, 56.2, 56.8, 56.4,
    56.6, 56.0, 56.6, 55.8, 56.4, 56.0, 56.2, 55.6, 56.2, 55.8,
    56.0, 55.4, 56.0, 55.6, 55.8, 55.2, 55.6, 55.4, 55.2, 55.0]
son_r85w = [
    57.6, 58.2, 57.4, 58.0, 57.2, 57.8, 58.4, 57.0, 57.8, 57.4,
    58.0, 57.2, 57.8, 58.2, 57.4, 57.0, 57.8, 58.4, 57.2, 57.6,
    58.0, 57.4, 57.8, 57.2, 58.2, 57.6, 57.0, 57.8, 57.4, 58.0,
    57.2, 57.6, 58.2, 57.4, 57.8, 57.0, 57.6, 58.0, 57.2, 57.8,
    57.4, 57.0, 57.8, 57.4, 58.0, 57.2, 57.6, 57.0, 57.6, 57.2]
son_r85w_m1 = [
    59.0, 56.8, 59.2, 56.6, 58.8, 56.4, 59.4, 56.2, 58.8, 56.6,
    59.2, 56.0, 58.6, 56.8, 59.0, 56.2, 58.8, 56.6, 59.4, 56.0,
    59.0, 56.4, 58.6, 56.2, 59.2, 56.6, 58.4, 56.2, 59.0, 56.4,
    58.8, 56.0, 59.2, 56.6, 58.6, 55.8, 58.8, 56.4, 59.0, 56.2,
    58.6, 55.6, 58.8, 56.2, 59.2, 55.8, 58.6, 55.4, 58.8, 56.0]
son_r85w_m2 = [
    56.2, 59.4, 56.6, 59.0, 56.0, 58.8, 57.0, 58.6, 56.4, 58.8,
    56.6, 59.0, 56.2, 59.2, 56.8, 58.4, 56.4, 59.4, 56.6, 58.8,
    56.8, 58.6, 56.4, 58.8, 56.6, 59.0, 56.2, 58.6, 56.8, 59.2,
    56.4, 58.8, 56.6, 58.4, 56.2, 58.8, 56.4, 59.0, 56.0, 58.6,
    56.6, 58.4, 56.2, 58.8, 56.4, 58.6, 56.0, 58.4, 56.2, 58.6]
son_r85w_m3 = [
    57.4, 58.0, 57.2, 57.8, 57.6, 57.4, 58.0, 57.2, 57.8, 57.6,
    57.4, 57.8, 57.6, 57.2, 57.8, 57.4, 57.6, 58.0, 57.4, 57.6,
    57.8, 57.2, 57.6, 57.8, 57.4, 57.6, 57.2, 57.8, 57.4, 57.6,
    57.8, 57.2, 57.6, 57.4, 57.8, 57.2, 57.4, 57.8, 57.2, 57.6,
    57.4, 57.2, 57.6, 57.4, 57.8, 57.2, 57.4, 57.0, 57.4, 57.2]
son_r85 = [
    58.6, 59.4, 58.8, 59.8, 59.2, 60.0, 58.6, 59.4, 58.2, 57.4,
    58.6, 59.4, 60.2, 59.8, 60.4, 60.0, 61.0, 60.4, 61.2, 60.8,
    61.4, 60.8, 61.6, 61.2, 61.8, 61.4, 62.0, 61.6, 62.2, 61.8,
    62.4, 62.0, 62.8, 62.2, 62.6, 62.2, 62.8, 62.4, 62.0, 62.4,
    62.8, 63.0, 62.6, 63.2, 63.8, 63.4, 64.0, 63.6, 64.4, 64.8]
son_r85_m1 = [
    60.2, 58.0, 61.0, 58.4, 60.6, 58.6, 61.2, 57.8, 60.0, 57.0,
    59.6, 58.2, 61.8, 58.6, 61.6, 59.0, 62.4, 59.4, 62.6, 59.8,
    63.0, 59.8, 63.4, 60.2, 63.2, 60.6, 63.6, 60.4, 64.0, 60.8,
    64.2, 61.2, 64.4, 61.0, 64.8, 61.4, 64.6, 61.6, 64.2, 61.4,
    65.0, 61.8, 64.6, 62.0, 65.2, 62.2, 66.2, 62.6, 65.8, 63.4]
son_r85_m2 = [
    57.6, 60.4, 58.2, 60.6, 58.0, 61.0, 57.8, 60.4, 57.0, 58.8,
    57.6, 60.2, 59.0, 61.0, 59.2, 61.6, 59.6, 62.4, 59.8, 62.6,
    60.4, 63.2, 60.2, 63.0, 60.6, 63.4, 60.8, 63.8, 61.2, 64.0,
    61.0, 64.4, 61.6, 63.6, 61.4, 64.2, 61.8, 64.6, 61.6, 64.0,
    62.2, 64.8, 62.0, 65.0, 62.4, 65.8, 62.6, 66.8, 63.2, 65.6]
son_r85_m3 = [
    58.8, 59.0, 59.2, 59.6, 58.8, 59.8, 58.6, 59.2, 58.4, 57.8,
    58.8, 59.2, 59.8, 60.0, 60.2, 60.6, 60.8, 60.4, 61.2, 61.0,
    61.4, 61.0, 61.6, 61.2, 61.8, 61.4, 62.0, 61.6, 62.2, 62.0,
    62.4, 62.2, 62.6, 62.8, 62.4, 62.8, 63.0, 62.6, 63.2, 63.0,
    63.4, 63.2, 63.6, 63.4, 63.8, 63.6, 64.2, 63.8, 64.6, 65.0]
son_obs_start = 1987
son_obs = [26.1, 34.9, 34.5, 35.8, 33.3, 32.4, 35.7, 40.6, 39.7, 35.8,
           33.3, 39.3, 43.1, 39.5, 39.3, 41.7, 37.3, 34.9, 37.4, 40.3,
           37.3, 38.1, 35.1, 36.4, 35.5, 38.8, 37.1]

# ---------------- labels / styles ----------------
TITLE = "Time series of surface ozone at Lassen"
LEGEND_LABELS = ["Control 1990", "Historical", "RCP4.5_WMGG", "RCP4.5",
                 "RCP8.5_WMGG", "RCP8.5", "Observations"]

C_CTRL = "#000000"
C_HIST = "#0c3318"
C_HIST_M = "#1f7a3e"
C_OBS = "#5d6464"
SCEN_STYLE = [  # (mean colour, member colour)
    ("#3f8fd8", "#62bdf0"),   # RCP4.5_WMGG
    ("#3444a6", "#4f5fbf"),   # RCP4.5
    ("#ef5f98", "#f6a6c3"),   # RCP8.5_WMGG
    ("#a3132a", "#c72a3c"),   # RCP8.5
]

panels = [
    dict(name="DJF", ctrl=djf_ctrl, hist=djf_hist,
         hist_m=[djf_hist_m1, djf_hist_m2, djf_hist_m3],
         scen=[(djf_r45w, [djf_r45w_m1, djf_r45w_m2, djf_r45w_m3]),
               (djf_r45, [djf_r45_m1, djf_r45_m2, djf_r45_m3]),
               (djf_r85w, [djf_r85w_m1, djf_r85w_m2, djf_r85w_m3]),
               (djf_r85, [djf_r85_m1, djf_r85_m2, djf_r85_m3])],
         obs_start=djf_obs_start, obs=djf_obs),
    dict(name="MAM", ctrl=mam_ctrl, hist=mam_hist,
         hist_m=[mam_hist_m1, mam_hist_m2, mam_hist_m3],
         scen=[(mam_r45w, [mam_r45w_m1, mam_r45w_m2, mam_r45w_m3]),
               (mam_r45, [mam_r45_m1, mam_r45_m2, mam_r45_m3]),
               (mam_r85w, [mam_r85w_m1, mam_r85w_m2, mam_r85w_m3]),
               (mam_r85, [mam_r85_m1, mam_r85_m2, mam_r85_m3])],
         obs_start=mam_obs_start, obs=mam_obs),
    dict(name="JJA", ctrl=jja_ctrl, hist=jja_hist,
         hist_m=[jja_hist_m1, jja_hist_m2, jja_hist_m3],
         scen=[(jja_r45w, [jja_r45w_m1, jja_r45w_m2, jja_r45w_m3]),
               (jja_r45, [jja_r45_m1, jja_r45_m2, jja_r45_m3]),
               (jja_r85w, [jja_r85w_m1, jja_r85w_m2, jja_r85w_m3]),
               (jja_r85, [jja_r85_m1, jja_r85_m2, jja_r85_m3])],
         obs_start=jja_obs_start, obs=jja_obs),
    dict(name="SON", ctrl=son_ctrl, hist=son_hist,
         hist_m=[son_hist_m1, son_hist_m2, son_hist_m3],
         scen=[(son_r45w, [son_r45w_m1, son_r45w_m2, son_r45w_m3]),
               (son_r45, [son_r45_m1, son_r45_m2, son_r45_m3]),
               (son_r85w, [son_r85w_m1, son_r85w_m2, son_r85w_m3]),
               (son_r85, [son_r85_m1, son_r85_m2, son_r85_m3])],
         obs_start=son_obs_start, obs=son_obs),
]


def yrs(start, arr):
    return np.arange(start, start + len(arr))


W, H = 1080, 834
fig = plt.figure(figsize=(W / 100, H / 100), dpi=100)

# axes rectangles in pixels: (left, top, width, height)
rects = [(64, 83, 474, 331), (609, 83, 474, 331),
         (64, 477, 474, 334), (609, 477, 474, 334)]

SPINE = "#7f7f7f"

for p, (l, t, w, h) in zip(panels, rects):
    ax = fig.add_axes([l / W, 1 - (t + h) / H, w / W, h / H])
    # historical members + mean
    for m in p["hist_m"]:
        ax.plot(yrs(HIST_START, m), m, color=C_HIST_M, lw=0.8, alpha=0.9, zorder=2)
    ax.plot(yrs(HIST_START, p["hist"]), p["hist"], color=C_HIST, lw=2.0, zorder=3)
    # control
    ax.plot(yrs(CTRL_START, p["ctrl"]), p["ctrl"], color=C_CTRL, lw=2.0, zorder=4)
    # future members
    for (mean, members), (cm, cmem) in zip(p["scen"], SCEN_STYLE):
        for m in members:
            ax.plot(yrs(FUT_START, m), m, color=cmem, lw=0.8, alpha=0.9, zorder=5)
    for (mean, members), (cm, cmem) in zip(p["scen"], SCEN_STYLE):
        ax.plot(yrs(FUT_START, mean), mean, color=cm, lw=2.0, zorder=6)
    # observations
    ax.plot(yrs(p["obs_start"], p["obs"]), p["obs"], color=C_OBS, lw=2.0,
            marker="o", ms=3.5, zorder=7)

    ax.set_xlim(1950, 2055)
    ax.set_ylim(25, 85)
    ax.set_xticks([1950, 1975, 2000, 2025, 2050])
    ax.set_yticks([30, 40, 50, 60, 70, 80])
    ax.tick_params(axis="both", which="both", direction="out", length=4,
                   width=0.8, color=SPINE, labelsize=12, top=True, right=True,
                   labeltop=False, labelright=False, pad=3)
    ax.tick_params(axis="x", pad=5)
    for s in ax.spines.values():
        s.set_color(SPINE)
        s.set_linewidth(0.9)
    ax.set_ylabel("ozone (ppb)", fontsize=13, labelpad=5)
    ax.text(0.5, 1 + 15 / h, p["name"], transform=ax.transAxes, ha="center",
            va="center", fontsize=11, fontweight="bold")

    handles = [
        Line2D([], [], color=C_CTRL, lw=2.2),
        Line2D([], [], color=C_HIST, lw=1.6),
        Line2D([], [], color=SCEN_STYLE[0][0], lw=2.2),
        Line2D([], [], color=SCEN_STYLE[1][0], lw=2.2),
        Line2D([], [], color=SCEN_STYLE[2][0], lw=2.2),
        Line2D([], [], color=SCEN_STYLE[3][0], lw=2.2),
        Line2D([], [], color=C_OBS, lw=2.0, marker="o", ms=2.5),
    ]
    ax.legend(handles, LEGEND_LABELS, loc="lower left",
              bbox_to_anchor=(336 / w, 8 / h), frameon=False, fontsize=10.5,
              handlelength=1.5, handletextpad=0.15, labelspacing=0.02,
              borderpad=0, borderaxespad=0, numpoints=1)

fig.text(551 / W, 1 - 30 / H, TITLE, ha="center", va="center",
         fontsize=24.5, fontweight="bold")

fig.savefig("out.png", dpi=100)
